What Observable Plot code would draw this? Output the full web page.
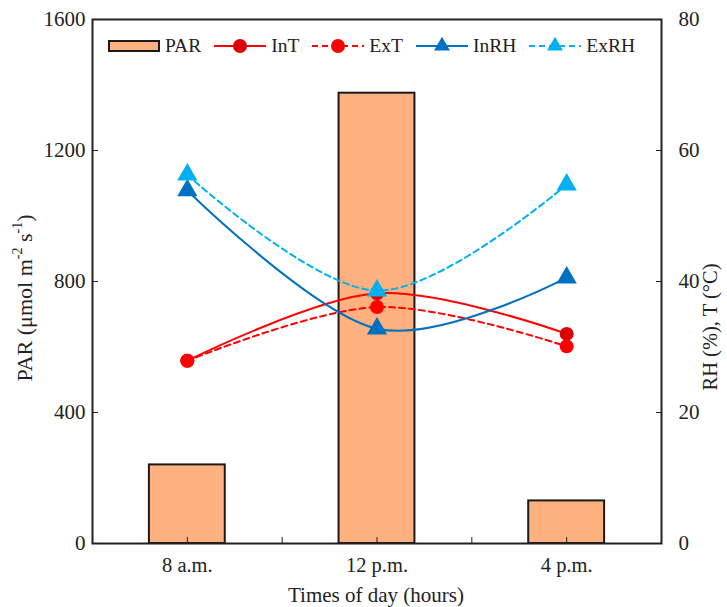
<!DOCTYPE html>
<html><head><meta charset="utf-8">
<script src="https://cdn.jsdelivr.net/npm/d3@7"></script>
<script src="https://cdn.jsdelivr.net/npm/@observablehq/plot@0.6"></script>
<style>
body{margin:0;background:#fff;}
#wrap{position:relative;width:727px;height:607px;font-family:"Liberation Serif","Times New Roman",serif;}
#legend{position:absolute;left:108px;top:35px;display:flex;align-items:center;font-size:19.5px;color:#222;}
#legend .item{display:flex;align-items:center;margin-right:13px;}
#legend svg{margin-right:5px;}
</style></head><body><div id="wrap"></div>
<script>
const times = ["8 a.m.", "12 p.m.", "4 p.m."];
const par = [240, 1375, 130];
const inT = [27.9, 38.2, 32.0];
const exT = [27.9, 36.1, 30.1];
const inRH = [53.9, 32.8, 40.6];
const exRH = [56.3, 38.6, 54.8];
const leftTicks = [0, 400, 800, 1200, 1600];
const rightTicks = [0, 20, 40, 60, 80];
const K = 1600 / 80;

const rows = times.map((t, i) => ({i, t, par: par[i], inT: inT[i], exT: exT[i], inRH: inRH[i], exRH: exRH[i]}));
const xticks = [0, 0.5, 1, 1.5, 2];

const series = [
  {key: "inT", line: "#FF0000", mark: "#DD0000", dash: null, symbol: "circle"},
  {key: "exT", line: "#FF0000", mark: "#FF0000", dash: "6,4", symbol: "circle"},
  {key: "inRH", line: "#0070C0", mark: "#0070C0", dash: null, symbol: "triangle"},
  {key: "exRH", line: "#00B0F0", mark: "#00B0F0", dash: "6,4", symbol: "triangle"}
];

const marks = [
  Plot.rectY(rows, {x1: d => d.i - 0.2, x2: d => d.i + 0.2, y1: 0, y2: "par", fill: "#FFB07F", stroke: "#1a1a1a", strokeWidth: 2})
];
for (const s of series) {
  marks.push(Plot.line(rows, {x: "i", y: d => d[s.key] * K, curve: "cardinal", stroke: s.line, strokeWidth: 2, strokeDasharray: s.dash}));
}
for (const s of series) {
  marks.push(Plot.dot(rows, {x: "i", y: d => d[s.key] * K, symbol: s.symbol, r: s.symbol === "circle" ? 7 : 7.5, fill: s.mark, stroke: "none"}));
}
marks.push(
  Plot.frame({stroke: "#222", strokeWidth: 2}),
  Plot.axisY(leftTicks, {anchor: "left", tickSize: -6, tickPadding: 13, fontSize: 21, label: null, tickFormat: d => String(d), stroke: "#222"}),
  Plot.axisY(rightTicks.map(d => d * K), {anchor: "right", tickSize: -6, tickPadding: 23, fontSize: 21, label: null, tickFormat: d => String(d / K), stroke: "#222"}),
  Plot.axisX(xticks, {anchor: "bottom", tickSize: -6, tickPadding: 20, fontSize: 20.5, label: null, tickFormat: d => Number.isInteger(d) ? times[d] : "", stroke: "#222"})
);

const chart = Plot.plot({
  width: 727, height: 607,
  marginLeft: 92, marginRight: 66, marginTop: 19, marginBottom: 64,
  style: {fontFamily: "'Liberation Serif','Times New Roman',serif", color: "#222", background: "#fff"},
  x: {type: "linear", domain: [-0.5, 2.5]},
  y: {domain: [0, 1600]},
  marks
});
document.getElementById("wrap").appendChild(chart);

const svg = d3.select(chart);
const tl = svg.append("text").attr("transform", "translate(27,298) rotate(-90)").attr("text-anchor", "middle").attr("dominant-baseline", "middle").attr("font-size", 22).attr("fill", "#222");
tl.append("tspan").text("PAR (μmol m");
tl.append("tspan").attr("font-size", 14).attr("dy", -8).text("-2");
tl.append("tspan").attr("dy", 8).text(" s");
tl.append("tspan").attr("font-size", 14).attr("dy", -8).text("-1");
tl.append("tspan").attr("dy", 8).text(")");
svg.append("text").attr("transform", "translate(712,327) rotate(-90)").attr("text-anchor", "middle").attr("dominant-baseline", "middle").attr("font-size", 20.5).attr("fill", "#222").text("RH (%), T (°C)");
svg.append("text").attr("x", 376).attr("y", 597).attr("text-anchor", "middle").attr("dominant-baseline", "middle").attr("font-size", 21).attr("fill", "#222").text("Times of day (hours)");

// legend
const legend = d3.select("#wrap").append("div").attr("id", "legend");
const items = [
  {label: "PAR", type: "bar"},
  {label: "InT", s: series[0]},
  {label: "ExT", s: series[1]},
  {label: "InRH", s: series[2]},
  {label: "ExRH", s: series[3]}
];
for (const it of items) {
  const div = legend.append("div").attr("class", "item");
  const sv = div.append("svg").attr("width", 52).attr("height", 20);
  if (it.type === "bar") {
    sv.append("rect").attr("x", 1).attr("y", 5).attr("width", 50).attr("height", 10).attr("fill", "#FFB07F").attr("stroke", "#1a1a1a").attr("stroke-width", 2);
  } else {
    sv.append("line").attr("x1", 0).attr("x2", 52).attr("y1", 10).attr("y2", 10).attr("stroke", it.s.line).attr("stroke-width", 2).attr("stroke-dasharray", it.s.dash);
    const sym = it.s.symbol === "circle" ? d3.symbolCircle : d3.symbolTriangle;
    const size = it.s.symbol === "circle" ? Math.PI * 49 : 110;
    sv.append("path").attr("transform", "translate(26,10)").attr("d", d3.symbol(sym, size)()).attr("fill", it.s.mark);
  }
  div.append("span").text(it.label);
}
</script>
</body></html>
